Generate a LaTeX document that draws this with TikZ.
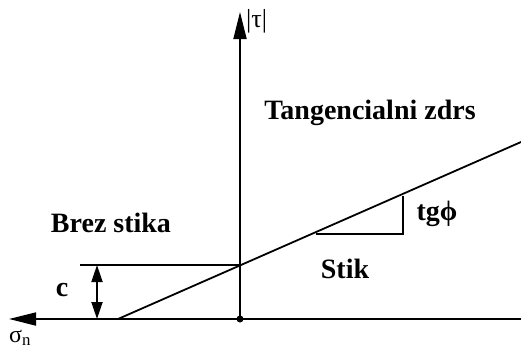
\documentclass[tikz,border=0pt]{standalone}
\usepackage{fontspec}
\setmainfont{Liberation Serif}
\usetikzlibrary{arrows.meta}
\begin{document}
\begin{tikzpicture}[x=1pt,y=-1pt,
  ln/.style={line width=1.8pt},
  lbl/.style={font=\fontsize{28}{32}\selectfont\bfseries, inner sep=0pt},
  sym/.style={font=\fontsize{26}{30}\selectfont, inner sep=0pt},
  bigtip/.style={-{Triangle[length=27pt,width=13pt]}},
  ctip/.style={{Triangle[length=17pt,width=11pt]}-{Triangle[length=17pt,width=11pt]}}]
\useasboundingbox (0,0) rectangle (521,349);
\coordinate (O) at (240,319);
\coordinate (R) at (521,319);
\coordinate (L) at (9,319);
\coordinate (T) at (240,12);
\coordinate (A) at (118,319);
\coordinate (B) at (521,142);
\coordinate (C) at (240,265);
\coordinate (Cl) at (80,265);
\coordinate (P1) at (316,234);
\coordinate (P2) at (403,234);
\coordinate (P3) at (403,195.5);
\coordinate (c1) at (97,265);
\coordinate (c2) at (97,319);
\draw[ln,bigtip] (R) -- (L);
\draw[ln,bigtip] (O) -- (T);
\draw[ln] (A) -- (B);
\draw[ln] (Cl) -- (C);
\draw[ln] (P1) -- (P2) -- (P3);
\draw[ln,ctip] (c1) -- (c2);
\fill (O) circle (3.5pt);
\node[lbl] (tz) at (370,113) {Tangencialni zdrs};
\node[lbl] (bs) at (111,223) {Brez stika};
\node[lbl] (st) at (345,269) {Stik};
\node[lbl] (tg) at (437,214) {tgϕ};
\node[lbl] (c) at (62,290) {c};
\node[sym, anchor=west] (tau) at (246,21) {|τ|};
\node[font=\fontsize{24}{28}\selectfont, inner sep=0pt, anchor=base west] (sig) at (9,342) {σ\textsubscript{n}};
\end{tikzpicture}
\end{document}
